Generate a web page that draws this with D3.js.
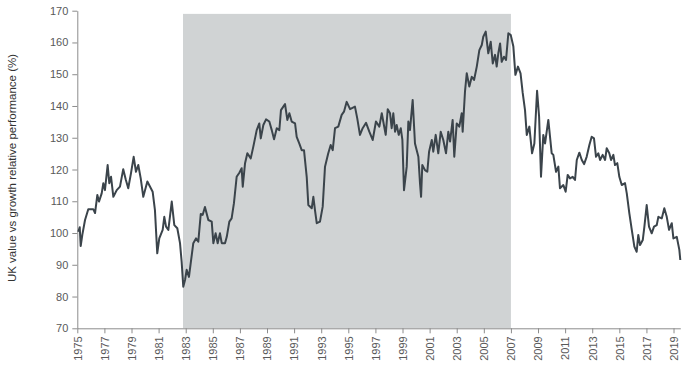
<!DOCTYPE html>
<html>
<head>
<meta charset="utf-8">
<script src="https://cdn.jsdelivr.net/npm/d3@7"></script>
<style>
  body { margin: 0; background: #fff; }
  svg { display: block; font-family: "Liberation Sans", Arial, sans-serif; }
</style>
</head>
<body>
<div id="chart"></div>
<script>
// decimal years and relative performance values
const years = [
  1975.07, 1975.18, 1975.25, 1975.37, 1975.57, 1975.81, 1976.18, 1976.31, 1976.48, 1976.60,
  1976.80, 1976.92, 1977.04, 1977.24, 1977.36, 1977.49, 1977.66, 1977.91, 1978.15, 1978.39,
  1978.57, 1978.76, 1978.96, 1979.16, 1979.33, 1979.50, 1979.68, 1979.87, 1980.17, 1980.56,
  1980.73, 1980.90, 1981.05, 1981.30, 1981.42, 1981.55, 1981.72, 1981.97, 1982.16, 1982.38,
  1982.58, 1982.70, 1982.82, 1982.95, 1983.07, 1983.24, 1983.37, 1983.56, 1983.76, 1983.93,
  1984.11, 1984.25, 1984.42, 1984.67, 1984.92, 1985.04, 1985.21, 1985.36, 1985.53, 1985.66,
  1985.90, 1986.03, 1986.22, 1986.39, 1986.56, 1986.76, 1986.96, 1987.13, 1987.21, 1987.38,
  1987.55, 1987.80, 1987.99, 1988.24, 1988.43, 1988.54, 1988.73, 1988.93, 1989.17, 1989.35,
  1989.52, 1989.72, 1989.91, 1990.03, 1990.33, 1990.50, 1990.65, 1990.82, 1991.07, 1991.19,
  1991.38, 1991.56, 1991.73, 1991.93, 1992.05, 1992.30, 1992.42, 1992.54, 1992.67, 1992.91,
  1993.11, 1993.28, 1993.52, 1993.70, 1993.85, 1994.02, 1994.26, 1994.51, 1994.68, 1994.88,
  1995.13, 1995.49, 1995.66, 1995.86, 1996.06, 1996.31, 1996.55, 1996.80, 1997.04, 1997.29,
  1997.47, 1997.58, 1997.76, 1997.91, 1998.08, 1998.20, 1998.32, 1998.45, 1998.57, 1998.72,
  1998.87, 1998.99, 1999.11, 1999.31, 1999.43, 1999.55, 1999.75, 1999.92, 2000.17, 2000.29,
  2000.37, 2000.46, 2000.66, 2000.83, 2000.96, 2001.16, 2001.27, 2001.45, 2001.64, 2001.82,
  2002.01, 2002.21, 2002.38, 2002.51, 2002.70, 2002.82, 2003.00, 2003.19, 2003.37, 2003.44,
  2003.61, 2003.74, 2003.93, 2004.11, 2004.28, 2004.48, 2004.67, 2004.85, 2004.96, 2005.14,
  2005.33, 2005.51, 2005.66, 2005.83, 2005.95, 2006.07, 2006.20, 2006.32, 2006.49, 2006.64,
  2006.81, 2006.99, 2007.18, 2007.33, 2007.52, 2007.71, 2007.87, 2008.04, 2008.17, 2008.36,
  2008.56, 2008.73, 2008.93, 2009.08, 2009.22, 2009.39, 2009.52, 2009.76, 2010.01, 2010.13,
  2010.33, 2010.50, 2010.62, 2010.87, 2011.04, 2011.19, 2011.36, 2011.56, 2011.73, 2011.86,
  2012.05, 2012.23, 2012.40, 2012.59, 2012.79, 2012.96, 2013.13, 2013.28, 2013.45, 2013.58,
  2013.77, 2013.95, 2014.07, 2014.26, 2014.39, 2014.56, 2014.68, 2014.85, 2015.00, 2015.18,
  2015.42, 2015.55, 2015.74, 2015.92, 2016.11, 2016.28, 2016.40, 2016.53, 2016.73, 2016.85,
  2017.02, 2017.19, 2017.39, 2017.56, 2017.76, 2017.88, 2018.13, 2018.32, 2018.50, 2018.67,
  2018.87, 2018.99, 2019.24, 2019.43, 2019.50
];
const values = [
  100.4, 101.8, 95.9, 99.4, 104.1, 107.5, 107.5, 106.3, 112.0, 109.9,
  112.5, 115.7, 113.5, 121.4, 115.7, 117.7, 111.4, 113.5, 114.6, 120.1,
  116.9, 114.1, 118.8, 124.0, 119.3, 121.4, 117.2, 111.4, 116.2, 113.0,
  107.2, 93.6, 98.3, 101.0, 105.1, 102.0, 101.0, 109.9, 102.5, 101.5,
  96.8, 91.0, 83.1, 85.2, 88.4, 86.2, 90.5, 96.8, 98.3, 97.3,
  106.0, 105.7, 108.2, 104.1, 103.6, 96.8, 99.9, 96.8, 99.9, 96.8,
  96.8, 98.8, 103.6, 104.6, 109.4, 117.7, 119.0, 120.4, 114.6, 122.0,
  125.1, 123.5, 127.2, 132.4, 134.5, 129.8, 134.0, 135.8, 135.1, 132.4,
  129.5, 133.0, 132.4, 138.7, 140.6, 135.6, 137.7, 135.1, 134.5, 130.3,
  128.2, 126.1, 126.1, 117.7, 108.8, 107.8, 111.4, 107.2, 103.1, 103.6,
  108.3, 120.9, 125.1, 127.7, 126.1, 133.0, 133.5, 137.2, 138.2, 141.3,
  139.0, 139.8, 136.1, 130.9, 133.0, 134.7, 131.9, 129.3, 135.1, 133.5,
  137.7, 135.1, 130.9, 139.0, 137.7, 133.0, 137.7, 131.9, 134.0, 130.9,
  133.0, 129.3, 113.5, 120.9, 135.1, 132.4, 141.9, 128.2, 124.0, 115.7,
  111.4, 121.4, 119.8, 119.3, 125.6, 129.3, 125.6, 130.9, 125.1, 131.9,
  129.3, 125.1, 131.9, 128.8, 135.6, 124.0, 134.5, 133.5, 137.7, 131.9,
  144.5, 150.3, 146.1, 149.2, 148.2, 152.4, 157.6, 159.2, 161.8, 163.4,
  156.6, 160.2, 153.4, 156.1, 152.4, 156.6, 159.7, 153.9, 155.5, 154.5,
  162.9, 162.3, 158.7, 149.8, 152.4, 150.3, 144.1, 138.7, 130.9, 133.5,
  125.1, 128.2, 144.8, 136.6, 117.7, 130.9, 128.2, 135.6, 125.1, 124.6,
  119.3, 120.9, 114.1, 115.1, 113.0, 118.3, 117.2, 117.7, 116.7, 123.0,
  125.3, 123.0, 121.7, 124.0, 127.7, 130.3, 129.8, 124.0, 125.1, 123.0,
  124.6, 123.0, 126.7, 125.1, 123.0, 124.6, 121.4, 122.0, 117.7, 115.1,
  115.7, 112.5, 106.2, 101.0, 95.7, 94.1, 99.4, 96.2, 97.8, 102.0,
  108.8, 102.0, 99.9, 102.0, 102.5, 105.1, 104.6, 107.8, 105.1, 101.0,
  103.1, 98.3, 98.8, 94.7, 91.5
];
const shadeStart = 1982.8;
const shadeEnd = 2007.0;
const shadeTop = 169;
const yTicks = [70, 80, 90, 100, 110, 120, 130, 140, 150, 160, 170];
const xTicks = d3.range(1975, 2020, 2);

const width = 699, height = 377;
const svg = d3.select("#chart").append("svg")
    .attr("width", width)
    .attr("height", height);

const x = d3.scaleLinear().domain([1975, 2019.5]).range([77.3, 680.3]);
const y = d3.scaleLinear().domain([70, 170]).range([328.3, 10.7]);

// shaded period
svg.append("rect")
    .attr("x", x(shadeStart))
    .attr("y", y(shadeTop))
    .attr("width", x(shadeEnd) - x(shadeStart))
    .attr("height", y(70) - y(shadeTop))
    .attr("fill", "#d0d3d4");

// y axis
const yAxis = svg.append("g")
    .attr("transform", `translate(${x(1975)},0)`)
    .call(d3.axisLeft(y).tickValues(yTicks).tickSize(5).tickPadding(4).tickSizeOuter(0));
yAxis.select(".domain").attr("stroke", "#8c8c8c");
yAxis.selectAll(".tick line").attr("stroke", "#8c8c8c");
yAxis.selectAll("text").attr("fill", "#595959").style("font-size", "11px");

// x axis
const xAxis = svg.append("g")
    .attr("transform", `translate(0,${y(70)})`)
    .call(d3.axisBottom(x).tickValues(xTicks).tickFormat(d3.format("d")).tickSize(5).tickSizeOuter(0));
xAxis.select(".domain").attr("stroke", "#8c8c8c");
xAxis.selectAll(".tick line").attr("stroke", "#8c8c8c");
xAxis.selectAll("text")
    .attr("fill", "#595959")
    .style("font-size", "11px")
    .attr("transform", "rotate(-90)")
    .attr("text-anchor", "end")
    .attr("x", -8)
    .attr("y", 0)
    .attr("dy", "0.35em");

// line
const line = d3.line()
    .x((d, i) => x(years[i]))
    .y(d => y(d));

svg.append("path")
    .datum(values)
    .attr("fill", "none")
    .attr("stroke", "#3b444b")
    .attr("stroke-width", 2)
    .attr("stroke-linejoin", "round")
    .attr("d", line);

// axis title
svg.append("text")
    .attr("transform", `translate(16,168) rotate(-90)`)
    .attr("text-anchor", "middle")
    .attr("fill", "#333")
    .style("font-size", "11.5px")
    .text("UK value vs  growth relative performance (%)");
</script>
</body>
</html>
